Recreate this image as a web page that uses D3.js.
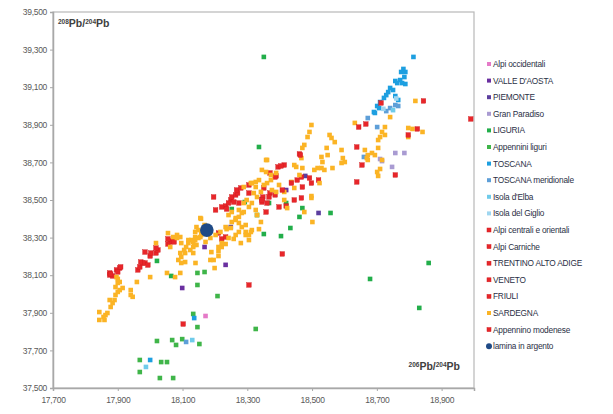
<!DOCTYPE html>
<html><head><meta charset="utf-8">
<script src="https://cdn.jsdelivr.net/npm/d3@7"></script>
<style>body{margin:0;background:#fff}svg{display:block}</style></head>
<body>
<svg id="c" width="613" height="414"></svg>
<script>
const xTicks=[17700,17900,18100,18300,18500,18700,18900];
const yTicks=[37500,37700,37900,38100,38300,38500,38700,38900,39100,39300,39500];

const alpiOccidentali=[[18171,37883]];
const valleDAosta=[[18168,38250],[18233,38155],[18099,38032],[18420,38553]];
const piemonte=[[18479,38628],[18520,38431],[18345,38505],[18249,38356]];
const granParadiso=[[18710,38718],[18757,38750],[18747,38676],[18716,38707],[18785,38750]];
const liguria=[[18351,39261],[18336,38782],[18292,38489],[18252,38452],[18330,38420],[18367,38484],[18420,38484],[18470,38457],[18461,38410],[18557,38431],[18433,38351],[18404,38308],[18351,38319],[18860,38165],[18679,38080],[18831,37926],[18021,38176],[18065,38096]];
const appenniniLiguri=[[18146,38112],[18168,38117],[18146,38048],[18208,37989],[18326,37814],[18146,37824],[18133,37894],[18021,37750],[18068,37755],[18080,37729],[18099,37760],[18152,37734],[17968,37649],[17968,37585],[18034,37638],[18052,37638],[18030,37553],[18071,37553]];
const toscana=[[18813,39261],[18782,39197],[18788,39181],[18775,39181],[18785,39154],[18772,39138],[18757,39133],[18778,39122],[18788,39117],[18763,39122],[18741,39096],[18735,39074],[18750,39085],[18729,39058],[18757,39053],[18722,39043],[18766,39032],[18710,39021],[18701,39000],[18691,38968],[18694,38963],[18707,38989],[18000,37649],[18136,37872]];
const toscanaMeridionale=[[18757,39005],[18741,38989],[18766,39000],[18729,38973],[18672,38936],[18701,38888],[18660,38729],[18111,37745]];
const isolaDElba=[[18130,37755],[17987,37612],[18750,38978]];
const isolaDelGiglio=[[18760,39040],[18720,38985]];
const alpiCentraliOrientali=[[17875,38101],[17875,38112],[17884,38096],[17878,38106],[17896,38128],[17906,38138],[17909,38144],[17900,38117],[17962,38128],[17968,38144],[17977,38165],[17971,38170],[17984,38165],[17993,38154],[18000,38202],[17984,38223],[18002,38218],[18018,38218],[18024,38234],[18018,38245]];
const alpiCarniche=[[18055,38266],[18062,38277],[18068,38282],[18055,38293],[18074,38277],[18102,37840],[18196,38516],[18202,38447],[18221,38463],[18233,38468]];
const trentinoAltoAdige=[[18249,38500],[18252,38516],[18264,38527],[18270,38537],[18236,38452],[18242,38484],[18258,38489],[18305,38537],[18345,38489],[18348,38516],[18370,38537],[18361,38484],[18386,38527]];
const veneto=[[18389,38628],[18370,38644],[18305,38048],[18221,38293],[18233,38303],[18211,38324],[18267,38553],[18280,38564],[18274,38484],[18305,38580],[18351,38564],[18367,38516],[18386,38622]];
const friuli=[[18395,38676],[18414,38686],[18404,38681],[18461,38745],[18454,38606],[18467,38622],[18470,38569],[18498,38590],[18492,38617],[18520,38606],[18445,38500],[18467,38511],[18420,38468],[18398,38463]];
const sardegna=[[17843,37904],[17843,37862],[17856,37878],[17862,37888],[17868,37899],[17859,37862],[17878,37931],[17884,37952],[17890,37968],[17875,37968],[17893,37995],[17900,38011],[17906,38021],[17893,38037],[17900,38059],[17906,38064],[17915,38032],[17900,38080],[17896,38090],[17940,38021],[17940,37995],[17946,37985],[17959,38064],[18000,38090],[18018,38271],[18055,38324],[18083,38314],[18093,38303],[18071,38303],[18052,38112],[18077,38090],[18093,38112],[18087,38181],[18096,38197],[18108,38218],[18093,38218],[18105,38234],[18111,38250],[18118,38271],[18127,38287],[18139,38303],[18124,38234],[18133,38250],[18143,38261],[18133,38218],[18108,38170],[18140,38165],[18096,38165],[18133,38277],[18189,38223],[18186,38181],[18149,38298],[18158,38330],[18139,38330],[18143,38356],
[18157,38400],[18149,38340],[18158,38314],[18171,38277],[18186,38298],[18202,38314],[18217,38330],[18233,38356],[18236,38345],[18249,38351],[18252,38383],[18264,38404],[18274,38378],[18283,38356],[18295,38330],[18305,38314],[18314,38340],[18274,38330],[18258,38293],[18233,38266],[18221,38250],[18211,38228],[18196,38181],[18199,38138],[18211,38202],[18242,38298],[18264,38314],[18242,38420],[18252,38436],[18274,38447],[18283,38431],[18289,38484],[18298,38500],[18314,38484],[18320,38537],[18330,38516],[18342,38543],[18351,38580],[18361,38590],[18373,38606],[18314,38590],[18326,38569],[18342,38383],[18305,38287],[18345,38660],[18358,38713],[18136,38261],[18168,38367],
[18361,38713],[18358,38649],[18373,38633],[18389,38644],[18326,38596],[18336,38606],[18311,38590],[18289,38569],[18398,38580],[18376,38553],[18389,38543],[18414,38543],[18445,38564],[18436,38596],[18498,38511],[18414,38500],[18326,38447],[18330,38420],[18305,38463],[18289,38436],[18274,38410],[18264,38394],[18295,38367],[18311,38330],[18295,38314],[18280,38271],[18221,38271],[18211,38250],[18155,38404],[18155,38303],[18139,38287],[18118,38287],[18096,38271],[18083,38298],[18062,38250],[18336,38345],[18501,38383],
[18819,39027],[18741,38941],[18797,38883],[18810,38878],[18841,38862],[18797,38835],[18725,38888],[18716,38862],[18710,38835],[18704,38819],[18725,38846],[18632,38910],[18498,38899],[18492,38862],[18486,38835],[18476,38793],[18470,38777],[18467,38723],[18470,38670],[18451,38676],[18461,38633],[18554,38846],[18560,38830],[18570,38808],[18545,38777],[18591,38766],[18548,38739],[18529,38729],[18532,38702],[18529,38670],[18517,38670],[18538,38660],[18563,38670],[18591,38697],[18595,38723],[18663,38766],[18672,38739],[18685,38750],[18694,38739],[18704,38777],[18716,38713],[18701,38649],[18669,38723],
[18445,38686],[18601,38702],[18672,38713],[18710,38665],[18704,38628],[18498,38521],[18423,38457],[18476,38436],[18523,38590],[18507,38660]];
const appenninoModenese=[[18358,38436],[18436,38590],[18638,38782],[18638,38596],[18345,38500],[18654,38686],[18757,38633],[18408,38213],[18408,38553],[18713,39016],[18844,39027],[18644,38888],[18666,38904],[18825,38878],[18797,38846],[18464,38739],[18990,38931]];
const laminaInArgento=[[18175,38340]];

const seriesNames=["Alpi occidentali","VALLE D'AOSTA","PIEMONTE","Gran Paradiso","LIGURIA","Appennini liguri","TOSCANA","TOSCANA meridionale","Isola d'Elba","Isola del Giglio","Alpi centrali e orientali","Alpi Carniche","TRENTINO ALTO ADIGE","VENETO","FRIULI","SARDEGNA","Appennino modenese","lamina in argento"];
const seriesData=[alpiOccidentali,valleDAosta,piemonte,granParadiso,liguria,appenniniLiguri,toscana,toscanaMeridionale,isolaDElba,isolaDelGiglio,alpiCentraliOrientali,alpiCarniche,trentinoAltoAdige,veneto,friuli,sardegna,appenninoModenese,laminaInArgento];
const seriesColors=["#e57ac8","#6a2fa0","#5b3e9e","#a99bd2","#22ae4a","#3fb549","#1d9fe0","#5e9fd8","#6fcbea","#9fd6f0","#e8262a","#e8262a","#e8262a","#e8262a","#e8262a","#fbb425","#e8262a","#1f4a86"];
const seriesStroke=[null,null,null,null,null,null,null,null,null,null,"#d01c20","#d01c20","#d01c20","#d01c20","#d01c20",null,"#d01c20",null];

const svg=d3.select("#c");
const L=53,R=474,T=12,B=388;
const x=d3.scaleLinear().domain([17700,19000]).range([L,R]);
const y=d3.scaleLinear().domain([37500,39500]).range([B,T]);

svg.append("rect").attr("x",L).attr("y",T).attr("width",R-L).attr("height",B-T)
  .attr("fill","#fff").attr("stroke","#b8b8b8").attr("stroke-width",1.2);

const fmt=d3.format(",");
const xa=svg.append("g").attr("transform",`translate(0,${B})`)
  .call(d3.axisBottom(x).tickValues(xTicks).tickFormat(fmt).tickSize(3).tickPadding(6));
const ya=svg.append("g").attr("transform",`translate(${L},0)`)
  .call(d3.axisLeft(y).tickValues(yTicks).tickFormat(fmt).tickSize(3).tickPadding(3));
[xa,ya].forEach(g=>{
  g.select(".domain").attr("stroke","#a8a8a8").attr("stroke-width",1.5);
  g.selectAll(".tick line").attr("stroke","#a8a8a8");
  g.selectAll("text").attr("fill","#595959").attr("font-family","'Liberation Sans',Arial,sans-serif").attr("font-size","8.5px").attr("letter-spacing","-0.3px");
});

const S=4.6;
seriesData.forEach((d,i)=>{
  const g=svg.append("g");
  if(i===17){
    g.selectAll("circle").data(d).join("circle")
      .attr("cx",p=>x(p[0])).attr("cy",p=>y(p[1])).attr("r",6.8).attr("fill",seriesColors[i]);
  } else {
    g.selectAll("rect").data(d).join("rect")
      .attr("x",p=>x(p[0])-S/2).attr("y",p=>y(p[1])-S/2).attr("width",S).attr("height",S)
      .attr("fill",seriesColors[i])
      .attr("stroke",seriesStroke[i]||"none").attr("stroke-width",0.4);
  }
});

function pbLabel(xx, yy, a, b, anchor){
  const tx=svg.append("text").attr("x",xx).attr("y",yy).attr("text-anchor",anchor)
    .attr("font-family","'Liberation Sans',Arial,sans-serif").attr("font-weight","bold")
    .attr("font-size","10.5px").attr("fill","#404040");
  tx.append("tspan").attr("font-size","6.5px").attr("dy","-3.5").text(a);
  tx.append("tspan").attr("dy","3.5").text("Pb/");
  tx.append("tspan").attr("font-size","6.5px").attr("dy","-3.5").text(b);
  tx.append("tspan").attr("dy","3.5").text("Pb");
}
pbLabel(58,27,"208","204","start");
pbLabel(460,370,"206","204","end");

const lg=svg.append("g").attr("transform","translate(489,64)");
seriesNames.forEach((n,i)=>{
  const gy=i*16.6;
  if(i===17){
    lg.append("circle").attr("cx",0).attr("cy",gy).attr("r",3).attr("fill",seriesColors[i]);
  } else {
    lg.append("rect").attr("x",-2).attr("y",gy-2).attr("width",4).attr("height",4)
      .attr("fill",seriesColors[i]).attr("stroke",seriesStroke[i]||"none").attr("stroke-width",0.5);
  }
  lg.append("text").attr("x",4).attr("y",gy+3).text(n)
    .attr("font-family","'Liberation Sans',Arial,sans-serif").attr("font-size","8.3px")
    .attr("fill","#2a2f45").attr("letter-spacing","-0.2px");
});
</script>
</body></html>
